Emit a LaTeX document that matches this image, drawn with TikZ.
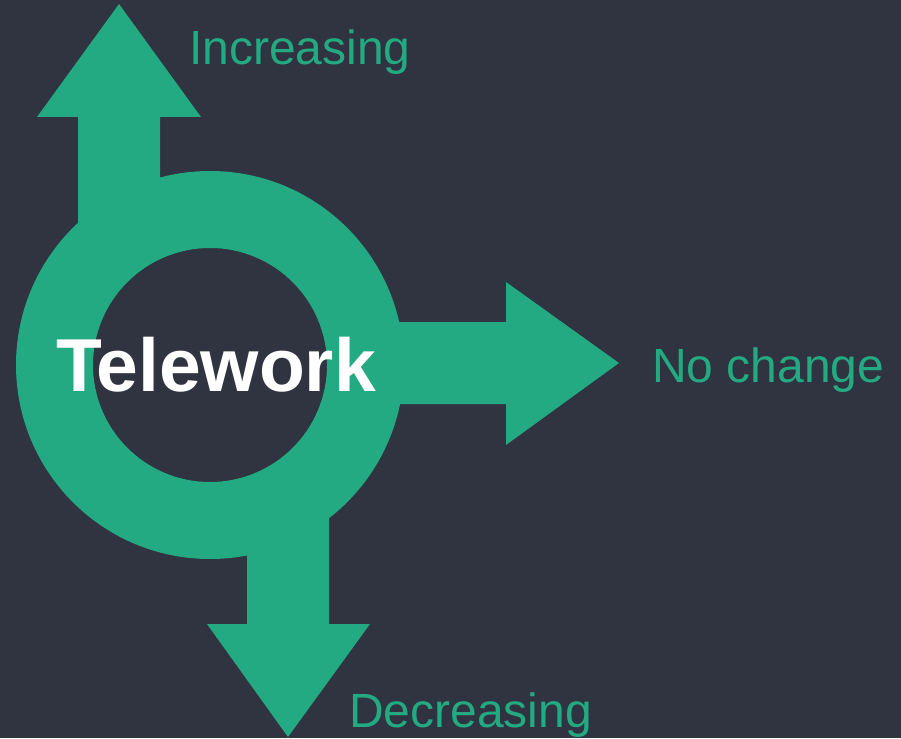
\documentclass[tikz,border=0pt]{standalone}
\usepackage{fontspec}
\setmainfont{Liberation Sans}
\definecolor{bgdark}{RGB}{47,52,64}
\definecolor{teal}{RGB}{36,170,131}
\begin{document}
\begin{tikzpicture}[x=1pt,y=-1pt,
  shape fill/.style={fill=teal,draw=none},
  label text/.style={text=teal,font=\fontsize{48}{48}\selectfont,inner sep=0pt},
  title text/.style={text=white,font=\fontsize{75}{75}\selectfont\bfseries,inner sep=0pt}]
  % background
  \fill[bgdark] (0,0) rectangle (901,738);
  \useasboundingbox (0,0) rectangle (901,738);
  % ring
  \coordinate (c) at (210,365);
  \fill[teal,even odd rule] (c) circle[radius=194] (c) circle[radius=117];
  % up arrow
  \path[shape fill] (78,240) -- (78,117) -- (37,117) -- (119,4) -- (201,117)
    -- (160,117) -- (160,240) -- cycle;
  % right arrow
  \path[shape fill] (360,322) -- (506,322) -- (506,282) -- (619,363) -- (506,445)
    -- (506,404) -- (360,404) -- cycle;
  % down arrow
  \path[shape fill] (247,500) -- (247,624) -- (207,624) -- (288,737) -- (370,624)
    -- (329,624) -- (329,500) -- cycle;
  % texts
  \node[title text,anchor=base west] (tele) at (56,391) {Telework};
  \node[label text,anchor=base west] (inc) at (189,65) {Increasing};
  \node[label text,anchor=base west] (noch) at (652,382) {No change};
  \node[label text,anchor=base west] (dec) at (349,727) {Decreasing};
\end{tikzpicture}
\end{document}
